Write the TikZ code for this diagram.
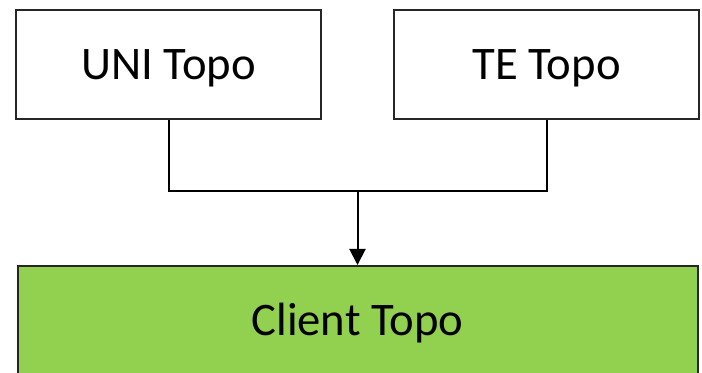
\documentclass[tikz,border=0pt]{standalone}
\usepackage{fontspec}
\setmainfont{Carlito}
\usepackage{tikz}
\usetikzlibrary{arrows.meta,positioning,calc}

\definecolor{topogreen}{RGB}{146,208,80}

\begin{document}
\begin{tikzpicture}[
  x=0.75pt, y=-0.75pt,
  node distance=53.25pt,
  topo/.style={draw=black!85, line width=1.5pt, fill=white, minimum width=228.75pt, minimum height=81.75pt, text height=22pt, text depth=0pt, font=\fontsize{35pt}{42pt}\selectfont},
  clientbox/.style={topo, fill=topogreen, minimum width=510pt, minimum height=82.5pt},
  link/.style={line width=1.5pt},
  arrow/.style={-{Triangle[length=12pt, width=12pt]}, line width=1.5pt}
]
\useasboundingbox (0,0) rectangle (702,373);

\node[topo] (uni) at (168.5,64.5) {UNI Topo};
\node[topo, right=of uni] (te) {TE Topo};
\node[clientbox] (client) at ($(uni.center)!0.5!(te.center) + (0,256.5)$) {Client Topo};
\coordinate[above=55.5pt of client.north] (join);

\draw[link] (uni.south) |- (join) -| (te.south);
\draw[arrow] (join) -- (client.north);
\end{tikzpicture}
\end{document}
